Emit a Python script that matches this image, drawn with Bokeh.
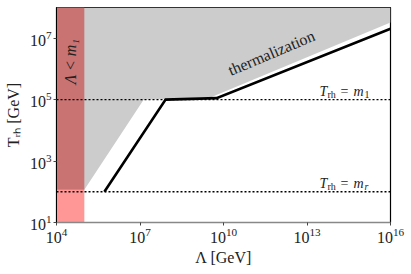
import numpy as np
from bokeh.plotting import figure
from bokeh.models import FixedTicker, LogTickFormatter, Label
from bokeh.embed import file_html
from bokeh.resources import INLINE

# ---- data (log10 values) ----
x_ticks = [1e4, 1e7, 1e10, 1e13, 1e16]
y_ticks = [1e1, 1e3, 1e5, 1e7]

# thermalization (grey) region boundary, log10(Lambda), log10(T_rh)
therm_lx = [4.0, 4.0, 5.0, 7.13, 9.55, 16.0, 16.0]
therm_ly = [8.0, 2.07, 2.07, 5.0, 5.08, 7.51, 8.0]

# Lambda < m_1 band
band_lx = [4.0, 5.0]

# black curve
curve_lx = [5.72, 7.92, 9.75, 16.0]
curve_ly = [2.0, 5.0, 5.05, 7.31]

# horizontal reference lines T_rh = m_1, T_rh = m_r
ref_ly = [5.0, 2.0]
ref_subs = ["1", "r"]

SERIF = "Liberation Serif"
TXT = "#222222"

p = figure(x_axis_type="log", y_axis_type="log",
           x_range=(1e4, 1e16), y_range=(1e1, 1e8),
           frame_width=334, frame_height=215,
           min_border_top=7, min_border_right=18, min_border_left=56, min_border_bottom=45,
           output_backend="svg", toolbar_location=None)

p.grid.visible = False
p.background_fill_color = "white"
p.border_fill_color = "white"
p.outline_line_color = "black"
p.outline_line_width = 1.2

tx = [10 ** v for v in therm_lx]
ty = [10 ** v for v in therm_ly]
p.patch(tx, ty, fill_color="#cccccc", line_color=None)

# red band, split where it overlaps the grey region
p.quad(left=10 ** band_lx[0], right=10 ** band_lx[1], bottom=1e1, top=10 ** therm_ly[1],
       fill_color="#ff9797", line_color=None)
p.quad(left=10 ** band_lx[0], right=10 ** band_lx[1], bottom=10 ** therm_ly[1], top=1e8,
       fill_color="#c97373", line_color=None)

for ly in ref_ly:
    p.line([1e4, 1e16], [10 ** ly, 10 ** ly], line_color="black", line_width=1.4,
           line_dash="2 2")

p.line([10 ** v for v in curve_lx], [10 ** v for v in curve_ly],
       line_color="black", line_width=2.6, line_join="miter")

# annotations
p.add_layout(Label(x=10 ** 4.5, y=10 ** 6.24, text="Λ < m₁", angle=np.pi / 2,
                   text_align="center", text_baseline="middle",
                   text_font=SERIF, text_font_style="italic", text_font_size="16px",
                   text_color=TXT))
p.add_layout(Label(x=10 ** 11.72, y=10 ** 6.52, text="thermalization", angle=np.radians(23),
                   text_align="center", text_baseline="middle",
                   text_font=SERIF, text_font_size="16px", text_color=TXT))

# "T_rh = m_x" labels, composed of pieces
for ly, sub in zip(ref_ly, ref_subs):
    y0 = 10 ** (ly + 0.26)
    x0 = 10 ** 13.45
    pieces = [("T", 0, 0, "14px", "italic"),
              ("rh", 8, -3, "10px", "normal"),
              ("=", 21, 0, "14px", "normal"),
              ("m", 34, 0, "14px", "italic"),
              (sub, 45, -3, "10px", "italic" if sub == "r" else "normal")]
    for t, dx, dy, fs, st in pieces:
        p.add_layout(Label(x=x0, y=y0, text=t, x_offset=dx, y_offset=dy,
                           text_align="left", text_baseline="alphabetic",
                           text_font=SERIF, text_font_style=st, text_font_size=fs,
                           text_color=TXT))

# axes
p.xaxis.ticker = FixedTicker(ticks=x_ticks, minor_ticks=[])
p.yaxis.ticker = FixedTicker(ticks=y_ticks, minor_ticks=[])
p.xaxis.formatter = LogTickFormatter()
p.yaxis.formatter = LogTickFormatter()
for ax in (p.xaxis, p.yaxis):
    ax.major_label_text_font = SERIF
    ax.major_label_text_font_size = "16px"
    ax.major_label_text_color = TXT
    ax.axis_label_text_font = SERIF
    ax.axis_label_text_font_size = "16px"
    ax.axis_label_text_font_style = "normal"
    ax.axis_label_text_color = TXT
    ax.major_tick_in = 0
    ax.major_tick_out = 3
    ax.major_tick_line_color = "#444444"
    ax.minor_tick_line_color = None
p.xaxis.axis_line_color = "#888888"
p.xaxis.axis_line_width = 1.5
p.yaxis.axis_line_color = "black"
p.xaxis.axis_label = "Λ [GeV]"
p.yaxis.axis_label = "Tᵣₕ [GeV]"
p.xaxis.major_label_standoff = 2
p.yaxis.major_label_standoff = 2
p.xaxis.axis_label_standoff = 3
p.yaxis.axis_label_standoff = 5

open("out.html", "w").write(file_html(p, INLINE))
